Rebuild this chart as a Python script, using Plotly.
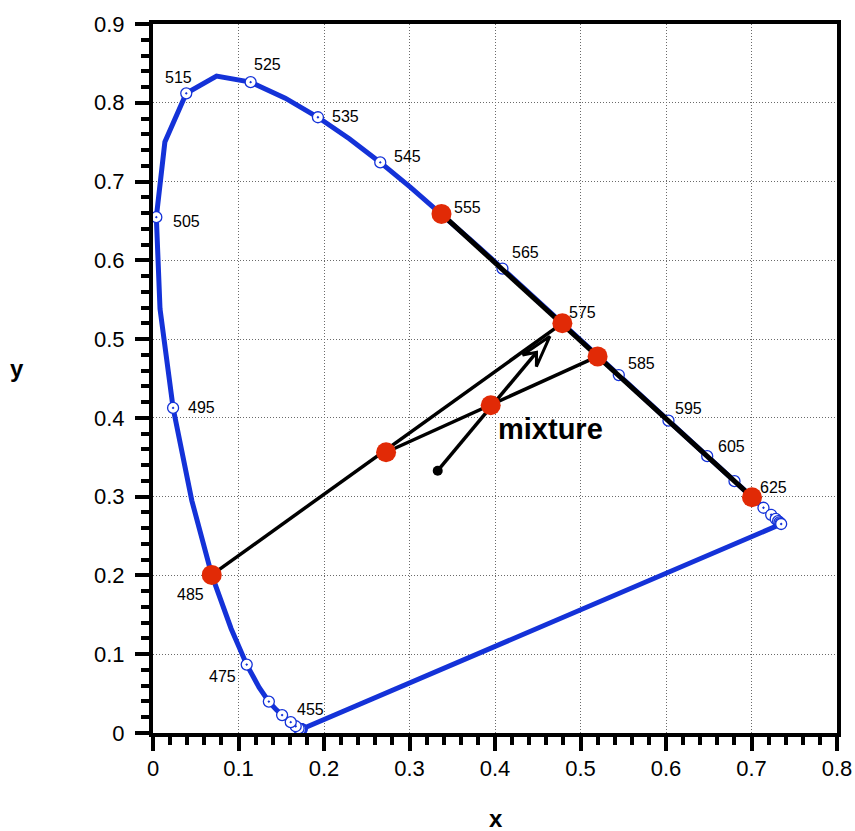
import numpy as np
import plotly.graph_objects as go

# ---------------- data ----------------
wavelength = [380, 385, 390, 395, 400, 405, 410, 415, 420, 425, 430, 435, 440, 445,
              450, 455, 460, 465, 470, 475, 480, 485, 490, 495, 500, 505, 510, 515,
              520, 525, 530, 535, 540, 545, 550, 555, 560, 565, 570, 575, 580, 585,
              590, 595, 600, 605, 610, 615, 620, 625, 630, 635, 640, 645, 650, 655,
              660, 665, 670, 675, 680, 685, 690, 695, 700]
locus_x = [0.1741, 0.1740, 0.1738, 0.1736, 0.1733, 0.1730, 0.1726, 0.1721, 0.1714, 0.1703,
           0.1689, 0.1669, 0.1644, 0.1611, 0.1566, 0.1510, 0.1440, 0.1355, 0.1241, 0.1096,
           0.0913, 0.0687, 0.0454, 0.0235, 0.0082, 0.0039, 0.0139, 0.0389, 0.0743, 0.1142,
           0.1547, 0.1929, 0.2296, 0.2658, 0.3016, 0.3374, 0.3731, 0.4087, 0.4441, 0.4788,
           0.5125, 0.5448, 0.5752, 0.6029, 0.6270, 0.6482, 0.6658, 0.6801, 0.6915, 0.7006,
           0.7079, 0.7140, 0.7190, 0.7230, 0.7260, 0.7283, 0.7300, 0.7311, 0.7320, 0.7327,
           0.7334, 0.7340, 0.7344, 0.7347, 0.7347]
locus_y = [0.0050, 0.0050, 0.0049, 0.0049, 0.0048, 0.0048, 0.0048, 0.0048, 0.0051, 0.0058,
           0.0069, 0.0086, 0.0109, 0.0138, 0.0177, 0.0227, 0.0297, 0.0399, 0.0578, 0.0868,
           0.1327, 0.2007, 0.2950, 0.4127, 0.5384, 0.6548, 0.7502, 0.8120, 0.8338, 0.8262,
           0.8059, 0.7816, 0.7543, 0.7243, 0.6923, 0.6589, 0.6245, 0.5896, 0.5547, 0.5202,
           0.4866, 0.4544, 0.4242, 0.3965, 0.3725, 0.3514, 0.3340, 0.3197, 0.3083, 0.2993,
           0.2920, 0.2859, 0.2809, 0.2770, 0.2740, 0.2717, 0.2700, 0.2689, 0.2680, 0.2673,
           0.2666, 0.2660, 0.2656, 0.2653, 0.2653]

label_wl = [455, 475, 485, 495, 505, 515, 525, 535, 545, 555, 565, 575, 585, 595, 605, 625]

# mixing construction
red_x = [0.0687, 0.4788, 0.2726, 0.5200, 0.3950, 0.3374, 0.7006]
red_y = [0.2007, 0.5202, 0.3564, 0.4780, 0.4160, 0.6589, 0.2993]
mix_line1_x = [0.0687, 0.4788]      # 485 -> 575
mix_line1_y = [0.2007, 0.5202]
mix_line2_x = [0.2726, 0.5200]      # first mixture -> ~583
mix_line2_y = [0.3564, 0.4780]
thick_x = [0.3374, 0.7006]          # 555 -> 625
thick_y = [0.6589, 0.2993]
arrow_x = [0.333, 0.4643]           # white point -> towards 575
arrow_y = [0.333, 0.5037]

x_ticks = [0, 0.1, 0.2, 0.3, 0.4, 0.5, 0.6, 0.7, 0.8]
x_ticktext = ["0", "0.1", "0.2", "0.3", "0.4", "0.5", "0.6", "0.7", "0.8"]
y_ticks = [0, 0.1, 0.2, 0.3, 0.4, 0.5, 0.6, 0.7, 0.8, 0.9]
y_ticktext = ["0", "0.1", "0.2", "0.3", "0.4", "0.5", "0.6", "0.7", "0.8", "0.9"]

# ---------------- style ----------------
BLUE = "#1432d8"
RED = "#e12a06"
FONT = "Liberation Sans, Helvetica, Arial, sans-serif"
W, H = 855, 831
ML, MR, MT, MB = 153, 18, 24, 98
XR, YR = (0, 0.8), (0, 0.9)
kx = (W - ML - MR) / (XR[1] - XR[0])
ky = (H - MT - MB) / (YR[1] - YR[0])

# label offsets in pixels (dx, dy screen)
label_off = {455: (28, -6), 475: (-24, 12), 485: (-21, 20), 495: (28, 0), 505: (30, 4),
             515: (-8, -16), 525: (17, -18), 535: (28, -1), 545: (27, -6), 555: (26, -6),
             565: (23, -16), 575: (20, -11), 585: (23, -12), 595: (20, -12), 605: (24, -10),
             625: (21, -10)}

fig = go.Figure()

# spectral locus + line of purples
fig.add_trace(go.Scatter(x=locus_x + [locus_x[0]], y=locus_y + [locus_y[0]], mode="lines",
                         line=dict(color=BLUE, width=5), hoverinfo="skip"))
mk_idx = [i for i, w in enumerate(wavelength) if w % 10 == 5]
fig.add_trace(go.Scatter(x=[locus_x[i] for i in mk_idx], y=[locus_y[i] for i in mk_idx],
                         mode="markers", cliponaxis=False,
                         marker=dict(symbol="circle-dot", size=11, color="white",
                                     line=dict(color=BLUE, width=1.3))))

# black construction lines
fig.add_trace(go.Scatter(x=thick_x, y=thick_y, mode="lines", line=dict(color="black", width=5)))
fig.add_trace(go.Scatter(x=mix_line1_x, y=mix_line1_y, mode="lines", line=dict(color="black", width=3.5)))
fig.add_trace(go.Scatter(x=mix_line2_x, y=mix_line2_y, mode="lines", line=dict(color="black", width=3.5)))

# arrow with open head (computed in pixel space from arrow data)
sx, sy = arrow_x[0] * kx, arrow_y[0] * ky
ex, ey = arrow_x[1] * kx, arrow_y[1] * ky
L = np.hypot(ex - sx, ey - sy)
ux, uy = (ex - sx) / L, (ey - sy) / L
nx, ny = -uy, ux
HL, HW, HN = 32, 9, 21
pts = [(ex, ey), (ex - HL * ux + HW * nx, ey - HL * uy + HW * ny),
       (ex - HN * ux, ey - HN * uy),
       (ex - HL * ux - HW * nx, ey - HL * uy - HW * ny), (ex, ey)]
fig.add_trace(go.Scatter(x=[arrow_x[0], (ex - HN * ux) / kx], y=[arrow_y[0], (ey - HN * uy) / ky],
                         mode="lines", line=dict(color="black", width=3.5)))
fig.add_trace(go.Scatter(x=[p[0] / kx for p in pts], y=[p[1] / ky for p in pts], mode="lines",
                         fill="toself", fillcolor="white", line=dict(color="black", width=3)))
fig.add_trace(go.Scatter(x=[arrow_x[0]], y=[arrow_y[0]], mode="markers",
                         marker=dict(color="black", size=10)))

# red points
fig.add_trace(go.Scatter(x=red_x, y=red_y, mode="markers",
                         marker=dict(color=RED, size=20, line=dict(width=0))))

annotations = []
for w in label_wl:
    i = wavelength.index(w)
    dx, dy = label_off[w]
    annotations.append(dict(x=locus_x[i], y=locus_y[i], text=str(w), showarrow=False,
                            xshift=dx, yshift=-dy, font=dict(size=16, color="black", family=FONT)))
annotations.append(dict(x=red_x[4], y=red_y[4], text="<b>mixture</b>", showarrow=False,
                        xanchor="left", yanchor="middle", xshift=5, yshift=-24,
                        font=dict(size=29, color="black", family=FONT)))
annotations.append(dict(x=496, y=H - 818, xref="paper", yref="paper", text="<b>x</b>",
                        xanchor="center", yanchor="middle",
                        showarrow=False, font=dict(size=24, color="black", family=FONT)))
annotations.append(dict(x=17, y=H - 368, xref="paper", yref="paper", text="<b>y</b>",
                        xanchor="center", yanchor="middle",
                        showarrow=False, font=dict(size=24, color="black", family=FONT)))
# convert paper annotations from pixels
for a in annotations:
    if a.get("xref") == "paper":
        a["x"] = (a["x"] - ML) / (W - ML - MR)
        a["y"] = (a["y"] - MB) / (H - MT - MB)

axis_common = dict(showline=True, linewidth=4, linecolor="black", mirror=True,
                   ticks="outside", ticklen=14, tickwidth=4, tickcolor="black",
                   showgrid=True, gridcolor="#6a6a6a", gridwidth=1, griddash="1px,2px",
                   zeroline=False, tickfont=dict(size=22, color="black", family=FONT),
                   automargin=False,
                   minor=dict(ticks="outside", ticklen=8, tickwidth=4, tickcolor="black",
                              dtick=0.02, tick0=0, showgrid=False))

fig.update_layout(
    width=W, height=H, margin=dict(l=ML, r=MR, t=MT, b=MB, autoexpand=False),
    paper_bgcolor="white", plot_bgcolor="white", showlegend=False,
    xaxis=dict(range=list(XR), tickvals=x_ticks, ticktext=x_ticktext,
               ticklabelstandoff=-1, **axis_common),
    yaxis=dict(range=list(YR), tickvals=y_ticks, ticktext=y_ticktext,
               ticklabelstandoff=6, **axis_common),
    annotations=annotations,
)

fig.write_html("out.html")
